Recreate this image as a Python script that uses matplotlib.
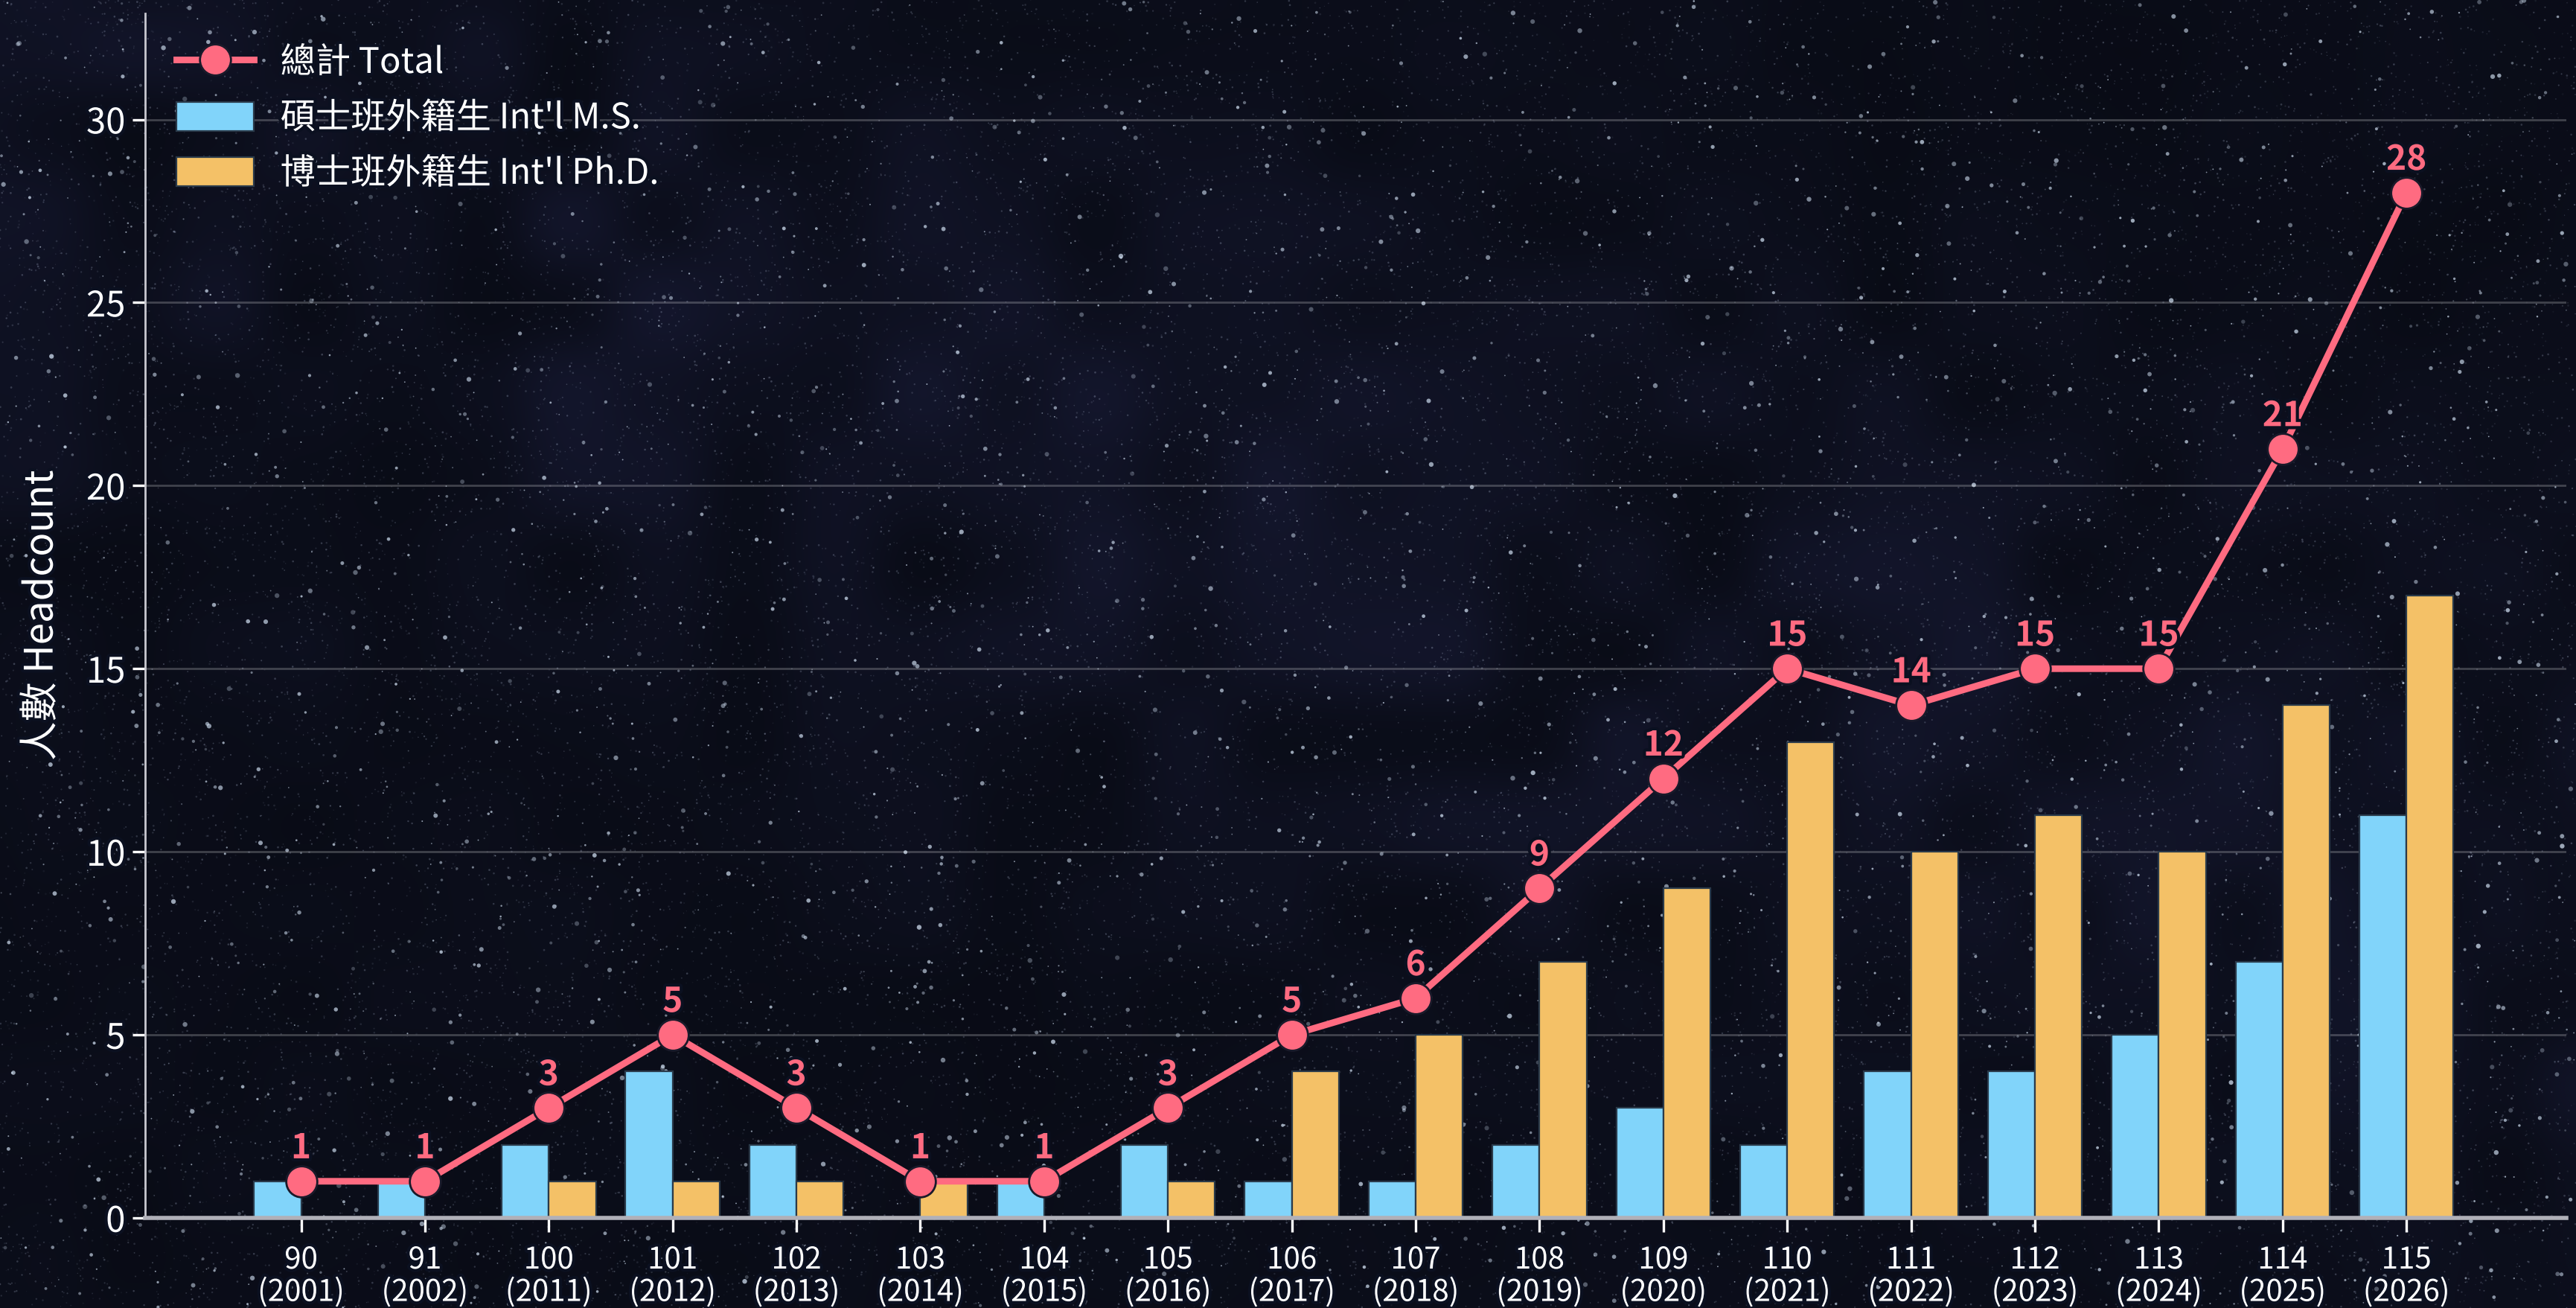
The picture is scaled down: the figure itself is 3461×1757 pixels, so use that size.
import numpy as np
import matplotlib
matplotlib.use("Agg")
import matplotlib.pyplot as plt
import matplotlib.patheffects as pe
from matplotlib.lines import Line2D
from matplotlib.patches import Patch

plt.rcParams['font.family'] = ['Noto Sans CJK TC', 'DejaVu Sans']

# ---- data ----
roc_years = ["90", "91", "100", "101", "102", "103", "104", "105", "106",
             "107", "108", "109", "110", "111", "112", "113", "114", "115"]
ad_years = ["2001", "2002", "2011", "2012", "2013", "2014", "2015", "2016", "2017",
            "2018", "2019", "2020", "2021", "2022", "2023", "2024", "2025", "2026"]
ms_counts = [1, 1, 2, 4, 2, 0, 1, 2, 1, 1, 2, 3, 2, 4, 4, 5, 7, 11]
phd_counts = [0, 0, 1, 1, 1, 1, 0, 1, 4, 5, 7, 9, 13, 10, 11, 10, 14, 17]
total_counts = [1, 1, 3, 5, 3, 1, 1, 3, 5, 6, 9, 12, 15, 14, 15, 15, 21, 28]
y_ticks = [0, 5, 10, 15, 20, 25, 30]

label_total = "總計 Total"
label_ms = "碩士班外籍生 Int'l M.S."
label_phd = "博士班外籍生 Int'l Ph.D."
ylabel = "人數 Headcount"

LINE_C = "#FF6B81"
MS_C = "#81D4FA"
PHD_C = "#F4C167"
DARK = "#0b1020"

W, H, DPI = 3461, 1757, 200
fig = plt.figure(figsize=(W / DPI, H / DPI), dpi=DPI)

# ---- decorative starry background (seeded, not data) ----
rng = np.random.default_rng(7)
bg = fig.add_axes([0, 0, 1, 1], zorder=-10)
bg.set_axis_off()
gh, gw = 90, 176
yy, xx = np.mgrid[0:gh, 0:gw]
noise = rng.random((gh // 6 + 2, gw // 6 + 2))
smooth = np.kron(noise, np.ones((6, 6)))[:gh, :gw]
for _ in range(6):
    smooth = (smooth + np.roll(smooth, 1, 0) + np.roll(smooth, -1, 0)
              + np.roll(smooth, 1, 1) + np.roll(smooth, -1, 1)) / 5
band = np.exp(-((yy / gh - 0.1 - (xx / gw) * 0.6) ** 2) / 0.08)
base = np.zeros((gh, gw, 3))
base[..., 0] = 0.035 + 0.035 * band * smooth + 0.01 * smooth
base[..., 1] = 0.045 + 0.035 * band * smooth + 0.01 * smooth
base[..., 2] = 0.085 + 0.075 * band * smooth + 0.02 * smooth
bg.imshow(np.clip(base, 0, 1), extent=[0, 1, 0, 1], aspect='auto',
          interpolation='bicubic', origin='upper')
# fine dust
nd = 30000
dcols = np.ones((nd, 4))
dcols[:, :3] = [0.7, 0.75, 0.85]
dcols[:, 3] = rng.random(nd) * 0.25 + 0.05
bg.scatter(rng.random(nd), rng.random(nd), s=rng.random(nd) * 0.8 + 0.2,
           c=dcols, linewidths=0)
# brighter stars
ns = 4000
cols = np.ones((ns, 4))
cols[:, :3] = [0.82, 0.88, 0.95]
cols[:, 3] = rng.random(ns) * 0.5 + 0.25
bg.scatter(rng.random(ns), rng.random(ns), s=rng.random(ns) ** 3 * 5 + 0.4,
           c=cols, linewidths=0)
bg.set_xlim(0, 1)
bg.set_ylim(0, 1)

# ---- main chart ----
ax = fig.add_axes([0.0563, 0.0689, 0.9399, 0.9209])
ax.set_facecolor('none')
x = np.arange(len(roc_years))
bw = 0.38
ax.bar(x - bw / 2, ms_counts, width=bw, color=MS_C, edgecolor="#2a3a4a",
       linewidth=0.8, label=label_ms, zorder=2)
ax.bar(x + bw / 2, phd_counts, width=bw, color=PHD_C, edgecolor="#2a3a4a",
       linewidth=0.8, label=label_phd, zorder=2)
ax.plot(x, total_counts, color=LINE_C, lw=3.2, marker='o', markersize=15,
        markeredgecolor="#1a1a2a", markeredgewidth=1.0, zorder=4,
        label=label_total)

stroke = [pe.withStroke(linewidth=3, foreground=DARK)]
for xi, v in zip(x, total_counts):
    ax.annotate(str(v), (xi, v), xytext=(0, 7.5), textcoords='offset points',
                ha='center', va='bottom', fontsize=16.5, fontweight='bold',
                color=LINE_C, path_effects=stroke, zorder=5)

ax.set_xlim(-1.26, 18.29)
ax.set_ylim(0, 32.9)
ax.set_yticks(y_ticks)
ax.set_xticks(x)
ax.set_xticklabels([f"{a}\n({b})" for a, b in zip(roc_years, ad_years)],
                   fontsize=14.5, color='white', linespacing=1.05)
ax.tick_params(axis='y', labelsize=17, colors='white', length=6, width=1.2)
ax.tick_params(axis='x', colors='white', length=7, width=1.2, pad=6)
for lab in ax.get_xticklabels() + ax.get_yticklabels():
    lab.set_path_effects([pe.withStroke(linewidth=3, foreground=DARK)])

ax.grid(axis='y', color='white', alpha=0.22, lw=1.0, zorder=0)
ax.set_axisbelow(True)
for s in ['top', 'right']:
    ax.spines[s].set_visible(False)
ax.spines['left'].set_color('#c8c8d0')
ax.spines['left'].set_linewidth(1.0)
ax.spines['bottom'].set_color('#b0b0b8')
ax.spines['bottom'].set_linewidth(2.0)

ax.set_ylabel(ylabel, fontsize=19, color='white', labelpad=12)
ax.yaxis.label.set_path_effects([pe.withStroke(linewidth=3, foreground=DARK)])

handles = [Line2D([0], [0], color=LINE_C, lw=3.2, marker='o', markersize=15,
                  markeredgecolor="#1a1a2a", markeredgewidth=1.0),
           Patch(facecolor=MS_C, edgecolor="#2a3a4a", linewidth=0.8),
           Patch(facecolor=PHD_C, edgecolor="#2a3a4a", linewidth=0.8)]
leg = ax.legend(handles, [label_total, label_ms, label_phd], loc='upper left',
                frameon=False, fontsize=17, labelcolor='white',
                handlelength=2.2, handleheight=0.9, borderaxespad=0.5,
                labelspacing=0.55, handletextpad=0.75)
for t in leg.get_texts():
    t.set_path_effects([pe.withStroke(linewidth=3, foreground=DARK)])

fig.savefig("out.png", dpi=DPI)
